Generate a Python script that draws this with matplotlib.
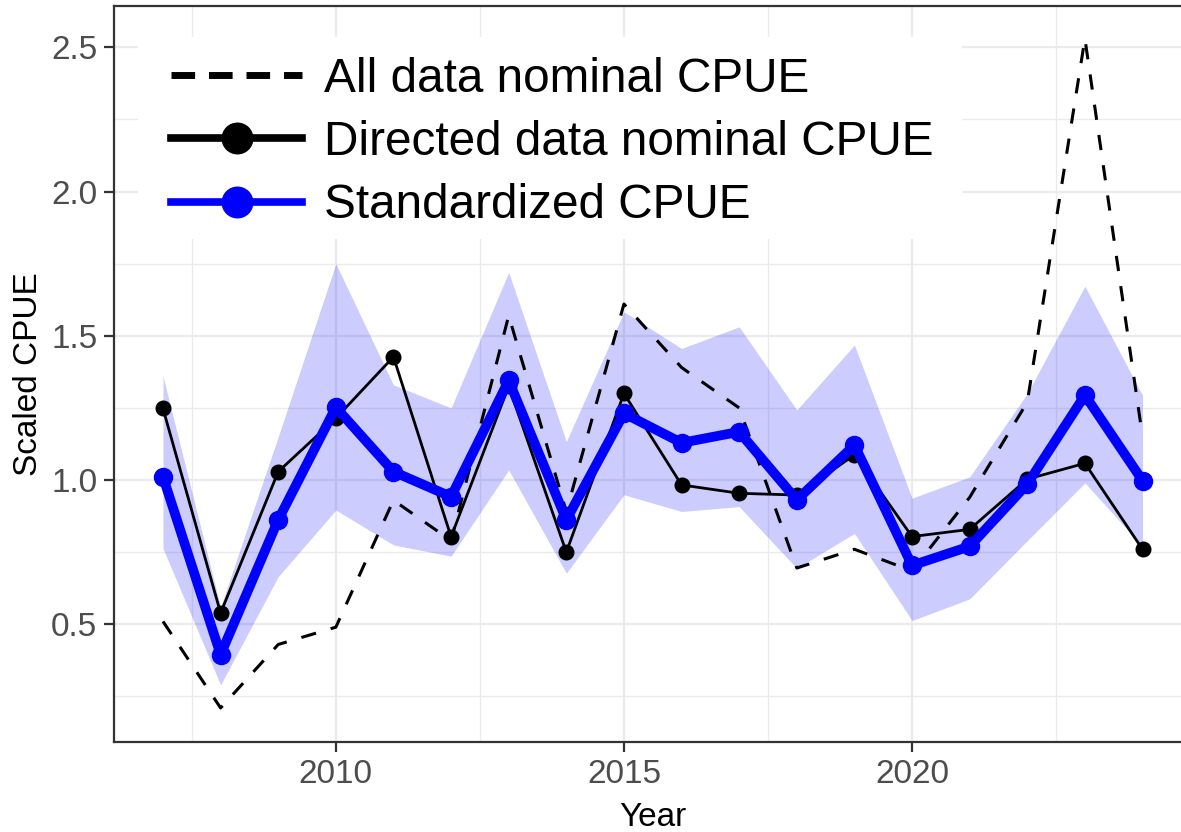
import matplotlib
matplotlib.use("Agg")
import matplotlib.pyplot as plt
from matplotlib.lines import Line2D
from matplotlib.patches import Rectangle
from matplotlib.ticker import MultipleLocator

plt.rcParams['font.family'] = ['Liberation Sans', 'DejaVu Sans']

years = list(range(2007, 2025))
all_nominal = [0.51, 0.21, 0.43, 0.49, 0.93, 0.79, 1.57, 0.89, 1.61, 1.39, 1.25,
               0.695, 0.76, 0.685, 0.94, 1.27, 2.53, 1.15]
directed_nominal = [1.248, 0.539, 1.029, 1.214, 1.427, 0.803, 1.325, 0.750, 1.300,
                    0.983, 0.954, 0.948, 1.087, 0.804, 0.829, 1.003, 1.058, 0.760]
standardized = [1.011, 0.395, 0.862, 1.252, 1.029, 0.942, 1.345, 0.862, 1.231,
                1.129, 1.167, 0.931, 1.121, 0.704, 0.770, 0.986, 1.294, 0.998]
std_upper = [1.36, 0.56, 1.15, 1.75, 1.33, 1.25, 1.72, 1.133, 1.583, 1.456, 1.531,
             1.243, 1.468, 0.937, 1.011, 1.30, 1.672, 1.294]
std_lower = [0.763, 0.29, 0.665, 0.896, 0.775, 0.736, 1.035, 0.677, 0.949, 0.891, 0.908,
             0.694, 0.815, 0.513, 0.588, 0.79, 0.99, 0.77]

labels = ["All data nominal CPUE", "Directed data nominal CPUE", "Standardized CPUE"]

W, H = 1181, 832
AX_L, AX_R, AX_T, AX_B = 114, 1191.5, 6, 742
fig = plt.figure(figsize=(W / 100, H / 100), dpi=100)
ax = fig.add_axes([AX_L / W, (H - AX_B) / H, (AX_R - AX_L) / W, (AX_B - AX_T) / H])


def axfrac(px, py):
    return (px - AX_L) / (AX_R - AX_L), (AX_B - py) / (AX_B - AX_T)


grid_c = '#EBEBEB'
ax.set_xlim(2006.15, 2024.85)
ax.set_ylim(0.092, 2.643)
ax.xaxis.set_major_locator(MultipleLocator(5))
ax.xaxis.set_minor_locator(MultipleLocator(2.5))
ax.yaxis.set_major_locator(MultipleLocator(0.5))
ax.yaxis.set_minor_locator(MultipleLocator(0.25))
ax.grid(which='major', color=grid_c, lw=1.6, zorder=0)
ax.grid(which='minor', color=grid_c, lw=1.0, zorder=0)
ax.set_axisbelow(True)

ax.fill_between(years, std_lower, std_upper, color='blue', alpha=0.2, lw=0, zorder=1)
ax.plot(years, all_nominal, color='black', lw=2.2, ls=(0, (5, 5)), zorder=2)
ax.plot(years, directed_nominal, color='black', lw=2.0, marker='o', ms=10.5, zorder=3)
ax.plot(years, standardized, color='blue', lw=7, marker='o', ms=13, zorder=4)

for s in ax.spines.values():
    s.set_color('#333333')
    s.set_linewidth(1.6)
ax.tick_params(which='major', length=7, width=1.6, color='#333333',
               labelsize=24, labelcolor='#4D4D4D', pad=5)
ax.tick_params(which='minor', length=0)
ax.set_xticks([2010, 2015, 2020])
ax.set_yticks([0.5, 1.0, 1.5, 2.0, 2.5])
ax.set_yticklabels(['0.5', '1.0', '1.5', '2.0', '2.5'])
ax.set_xlabel('Year', fontsize=24, labelpad=9)
ax.set_ylabel('Scaled CPUE', fontsize=24, labelpad=5)

# white legend background box
x0, y0 = axfrac(138, 239)
x1, y1 = axfrac(962, 37)
ax.add_patch(Rectangle((x0, y0), x1 - x0, y1 - y0, transform=ax.transAxes,
                       facecolor='white', edgecolor='none', zorder=5))

handles = [
    Line2D([], [], color='black', lw=5, ls=(0, (3.4, 2))),
    Line2D([], [], color='black', lw=5.5, marker='o', ms=22),
    Line2D([], [], color='blue', lw=5.5, marker='o', ms=22),
]
leg = ax.legend(handles, labels, loc='upper left',
                bbox_to_anchor=axfrac(171, 57),
                fontsize=34.4, frameon=False, handlelength=2.75, handletextpad=0.45,
                labelspacing=0.38, borderpad=0, borderaxespad=0)
leg.set_zorder(6)

fig.savefig('out.png', dpi=100)
